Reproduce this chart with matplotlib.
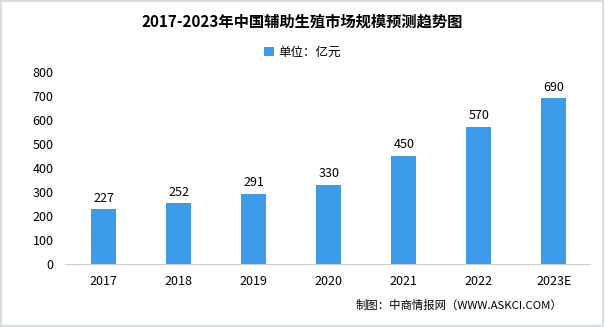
import matplotlib.pyplot as plt
from matplotlib.patches import Rectangle

plt.rcParams['font.family'] = ['Noto Sans CJK SC', 'DejaVu Sans']

years = ['2017', '2018', '2019', '2020', '2021', '2022', '2023E']
values = [227, 252, 291, 330, 450, 570, 690]
bar_color = '#3d9bec'

fig = plt.figure(figsize=(6.05, 3.27), dpi=100)
ax = fig.add_axes([0.107, 0.193, 0.868, 0.587])

x = range(len(years))
ax.bar(x, values, width=0.33, color=bar_color, label='单位：亿元')
for i, v in zip(x, values):
    ax.text(i, v + 20, str(v), ha='center', va='bottom', fontsize=9)

ax.set_xlim(-0.52, len(years) - 0.52)
ax.set_ylim(0, 800)
ax.set_yticks(range(0, 801, 100))
ax.set_xticks(list(x))
ax.set_xticklabels(years)
ax.tick_params(axis='both', length=0, labelsize=9, pad=8)
for s in ['top', 'right', 'left']:
    ax.spines[s].set_visible(False)
ax.spines['bottom'].set_color('#d0d0d0')

fig.text(0.5, 0.935, '2017-2023年中国辅助生殖市场规模预测趋势图',
         ha='center', va='center', fontsize=11, fontweight='bold')
fig.legend(loc='center', bbox_to_anchor=(0.5, 0.84), frameon=False,
           fontsize=9, handlelength=0.8, handleheight=0.8, handletextpad=0.3)
fig.text(0.93, 0.065, '制图：中商情报网（WWW.ASKCI.COM）',
         ha='right', va='center', fontsize=8.2)

fig.patches.append(Rectangle((0.002, 0.003), 0.995, 0.993, transform=fig.transFigure,
                             fill=False, edgecolor='#d8dde3', linewidth=1.5))

fig.savefig('out.png', dpi=100)
